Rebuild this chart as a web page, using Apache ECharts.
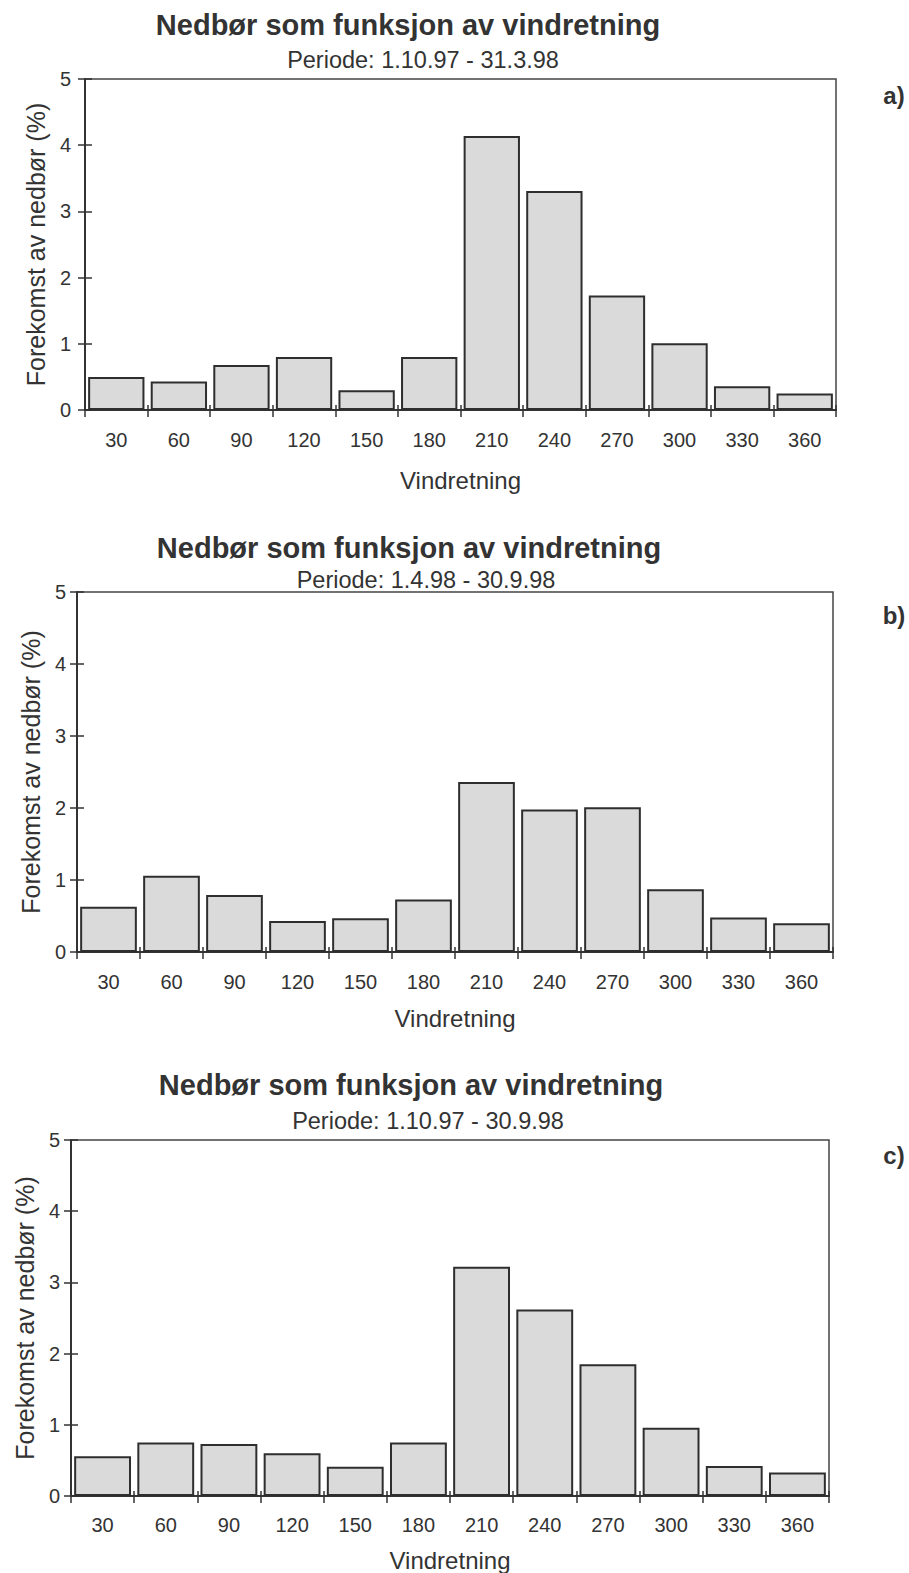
<!DOCTYPE html>
<html>
<head>
<meta charset="utf-8">
<script src="https://cdn.jsdelivr.net/npm/echarts@6/dist/echarts.min.js"></script>
<style>
  html, body { margin: 0; padding: 0; background: #ffffff; }
  #chart { width: 909px; height: 1573px; }
</style>
</head>
<body>
<div id="chart"></div>
<script>
// Wind direction sectors (degrees)
const directions = ['30', '60', '90', '120', '150', '180', '210', '240', '270', '300', '330', '360'];

// Share of precipitation per wind sector (%)
const winterValues = [0.50, 0.43, 0.68, 0.80, 0.30, 0.80, 4.14, 3.31, 1.73, 1.01, 0.36, 0.25];
const summerValues = [0.63, 1.06, 0.79, 0.43, 0.47, 0.73, 2.36, 1.98, 2.01, 0.87, 0.48, 0.40];
const yearValues   = [0.56, 0.75, 0.73, 0.60, 0.41, 0.75, 3.22, 2.62, 1.85, 0.96, 0.42, 0.33];

const yTicks = [0, 1, 2, 3, 4, 5];

const mainTitle = 'Nedbør som funksjon av vindretning';
const periods = ['Periode: 1.10.97 - 31.3.98', 'Periode: 1.4.98 - 30.9.98', 'Periode: 1.10.97 - 30.9.98'];
const panelTags = ['a)', 'b)', 'c)'];
const xName = 'Vindretning';
const yName = 'Forekomst av nedbør (%)';

const FONT = 'Arial, "Liberation Sans", Helvetica, sans-serif';
const INK = '#333333';

// Layout of the three stacked panels
const panels = [
  { values: winterValues, left: 85, width: 751, top: 79,  height: 331,
    titleX: 408, titleY: 25, subX: 423, subY: 60, tagY: 95,
    yLabelMargin: 14, yNameGap: 36, xLabelMargin: 20, xNameGap: 58 },
  { values: summerValues, left: 77, width: 756, top: 592, height: 360,
    titleX: 409, titleY: 548, subX: 426, subY: 580, tagY: 615,
    yLabelMargin: 11, yNameGap: 31, xLabelMargin: 20, xNameGap: 54 },
  { values: yearValues,   left: 71, width: 758, top: 1140, height: 356,
    titleX: 411, titleY: 1085, subX: 428, subY: 1121, tagY: 1155,
    yLabelMargin: 11, yNameGap: 32, xLabelMargin: 19, xNameGap: 52 }
];

const grid = [], xAxis = [], yAxis = [], series = [], graphic = [];

panels.forEach((p, i) => {
  grid.push({
    left: p.left, top: p.top, width: p.width, height: p.height,
    outerBoundsMode: 'none', containLabel: false,
    show: true, borderColor: '#444', borderWidth: 1.5, backgroundColor: 'transparent'
  });

  // main category axis with labels and outward ticks
  xAxis.push({
    type: 'category', gridIndex: i, data: directions,
    name: xName, nameLocation: 'middle', nameGap: p.xNameGap,
    nameTextStyle: { fontFamily: FONT, fontSize: 24, color: INK },
    axisLine: { show: true, lineStyle: { color: INK, width: 2 } },
    axisTick: { show: true, alignWithLabel: false, length: 7, lineStyle: { color: INK, width: 1.5 } },
    axisLabel: { fontFamily: FONT, fontSize: 20, color: INK, margin: p.xLabelMargin },
    splitLine: { show: false }
  });
  // companion axis giving the short inward half of each tick
  xAxis.push({
    type: 'category', gridIndex: i, data: directions, position: 'bottom',
    axisLine: { show: false },
    axisTick: { show: true, inside: true, length: 5, lineStyle: { color: INK, width: 1.5 } },
    axisLabel: { show: false },
    splitLine: { show: false }
  });

  yAxis.push({
    type: 'value', gridIndex: i, min: 0, max: 5, interval: 1,
    name: yName, nameLocation: 'middle', nameGap: p.yNameGap, nameRotate: 90,
    nameTextStyle: { fontFamily: FONT, fontSize: 25, color: INK },
    axisLine: { show: true, lineStyle: { color: INK, width: 2 } },
    axisTick: { show: true, length: 7, lineStyle: { color: INK, width: 1.5 } },
    axisLabel: { fontFamily: FONT, fontSize: 20, color: INK, margin: p.yLabelMargin,
                 formatter: v => yTicks.includes(v) ? String(v) : '' },
    splitLine: { show: false }
  });
  // inward half of the value-axis ticks
  yAxis.push({
    type: 'value', gridIndex: i, min: 0, max: 5, interval: 1, position: 'left',
    axisLine: { show: false },
    axisTick: { show: true, inside: true, length: 7, lineStyle: { color: INK, width: 1.5 } },
    axisLabel: { show: false },
    splitLine: { show: false }
  });

  series.push({
    type: 'bar', xAxisIndex: i * 2, yAxisIndex: i * 2, data: p.values,
    barCategoryGap: '10%',
    itemStyle: { color: '#dadada', borderColor: '#2e2e2e', borderWidth: 2 },
    emphasis: { disabled: true },
    silent: true, animation: false
  });

  graphic.push({
    type: 'text', x: p.titleX, y: p.titleY,
    style: { text: mainTitle, fill: INK, font: 'bold 29px ' + FONT, align: 'center', verticalAlign: 'middle' }
  });
  graphic.push({
    type: 'text', x: p.subX, y: p.subY,
    style: { text: periods[i], fill: INK, font: '23.5px ' + FONT, align: 'center', verticalAlign: 'middle' }
  });
  graphic.push({
    type: 'text', x: 894, y: p.tagY,
    style: { text: panelTags[i], fill: INK, font: 'bold 24px ' + FONT, align: 'center', verticalAlign: 'middle' }
  });
});

const chart = echarts.init(document.getElementById('chart'), null, { renderer: 'svg' });
chart.setOption({
  backgroundColor: '#ffffff',
  animation: false,
  grid, xAxis, yAxis, series, graphic
});
</script>
</body>
</html>
